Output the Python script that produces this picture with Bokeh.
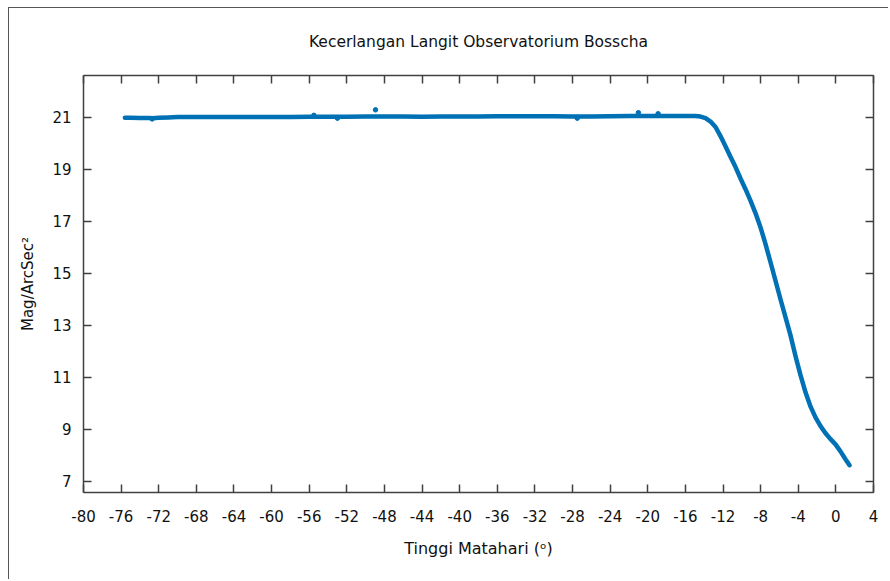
from bokeh.plotting import figure
from bokeh.models import LinearAxis, FixedTicker, Range1d
from bokeh.embed import file_html
from bokeh.resources import INLINE

# Sun altitude (degrees) and sky brightness (mag/arcsec^2)
altitude = [-75.6, -75, -74, -73, -72.7, -72, -71, -70, -68, -66, -64, -62, -60, -58,
            -56, -54, -52, -50, -48, -46, -44, -42, -40, -38, -36, -34, -32, -30,
            -28, -26, -24, -22, -20, -18, -16, -14.93, -14.4, -13.86, -13.33, -12.8,
            -12.27, -11.74, -11.21, -10.67, -10.15, -9.61, -9.08, -8.55, -8.02, -7.48,
            -6.95, -6.42, -5.89, -5.36, -4.83, -4.29, -3.76, -3.23, -2.7, -2.17,
            -1.63, -1.1, -0.57, -0.04, 0.49, 1.02, 1.45]
magnitude = [20.98, 20.98, 20.97, 20.97, 20.96, 20.98, 20.99, 21.0, 21.0, 21.0, 21.0, 21.0, 21.0, 21.0,
             21.01, 21.01, 21.01, 21.02, 21.02, 21.02, 21.01, 21.02, 21.02, 21.02, 21.03, 21.03, 21.03, 21.03,
             21.02, 21.02, 21.03, 21.04, 21.04, 21.04, 21.04, 21.04, 21.02, 20.96, 20.83, 20.62,
             20.27, 19.88, 19.48, 19.08, 18.65, 18.23, 17.79, 17.31, 16.77, 16.12,
             15.42, 14.71, 14.0, 13.31, 12.62, 11.81, 11.08, 10.42, 9.88, 9.46,
             9.12, 8.85, 8.62, 8.42, 8.15, 7.85, 7.62]

# isolated readings off the main band
outlier_alt = [-48.95, -21.0, -18.9, -55.5, -72.7, -53.0, -27.5]
outlier_mag = [21.28, 21.17, 21.13, 21.07, 20.93, 20.96, 20.96]

x_ticks = [-80, -76, -72, -68, -64, -60, -56, -52, -48, -44, -40, -36, -32, -28,
           -24, -20, -16, -12, -8, -4, 0, 4]
x_tick_labels = ["-80", "-76", "-72", "-68", "-64", "-60", "-56", "-52", "-48", "-44", "-40",
                 "-36", "-32", "-28", "-24", "-20", "-16", "-12", "-8", "-4", "0", "4"]
y_ticks = [7, 9, 11, 13, 15, 17, 19, 21]
y_tick_labels = ["7", "9", "11", "13", "15", "17", "19", "21"]

title_text = "Kecerlangan Langit Observatorium Bosscha"
x_label = "Tinggi Matahari (ᵒ)"
y_label = "Mag/ArcSec²"

FONT = "DejaVu Sans"
AXIS_COLOR = "#404040"
LINE_COLOR = "#0071b5"
TEXT_COLOR = "#111111"

p = figure(width=888, height=579,
           x_range=Range1d(-80, 4), y_range=Range1d(6.57, 22.6),
           output_backend="svg", toolbar_location=None,
           min_border_left=83, min_border_right=15,
           min_border_top=75, min_border_bottom=87,
           x_axis_label=x_label, y_axis_label=y_label)

# outer frame line of the picture (left and top edges), drawn behind a transparent border
p.border_fill_color = None
p.background_fill_color = "white"
p.styles = {
    "background": "linear-gradient(#555555, #555555) 8px 7px / 2000px 1px no-repeat, "
                  "linear-gradient(#555555, #555555) 8px 7px / 1px 2000px no-repeat, white"
}

p.title.text = ""
p.xgrid.visible = False
p.ygrid.visible = False
p.outline_line_color = AXIS_COLOR

p.line(altitude, magnitude, line_width=4.5, color=LINE_COLOR, line_join="round", line_cap="round")
p.scatter(outlier_alt, outlier_mag, size=4.5, color=LINE_COLOR)

bottom_axis = p.below[0]
left_axis = p.left[0]

bottom_axis.ticker = FixedTicker(ticks=x_ticks)
bottom_axis.major_label_overrides = dict(zip(x_ticks, x_tick_labels))
bottom_axis.major_label_standoff = 17
bottom_axis.axis_label_standoff = 14

left_axis.ticker = FixedTicker(ticks=y_ticks)
left_axis.major_label_overrides = dict(zip(y_ticks, y_tick_labels))
left_axis.major_label_standoff = 12
left_axis.axis_label_standoff = 12

top_axis = LinearAxis(ticker=FixedTicker(ticks=x_ticks), axis_label=title_text)
right_axis = LinearAxis(ticker=FixedTicker(ticks=y_ticks))
p.add_layout(top_axis, "above")
p.add_layout(right_axis, "right")

for ax in (bottom_axis, left_axis, top_axis, right_axis):
    ax.axis_line_color = AXIS_COLOR
    ax.axis_line_width = 1.5
    ax.major_tick_line_color = AXIS_COLOR
    ax.major_tick_line_width = 1.5
    ax.major_tick_in = 8
    ax.major_tick_out = 0
    ax.minor_tick_line_color = None
    ax.major_label_text_font = FONT
    ax.major_label_text_font_size = "15px"
    ax.major_label_text_color = TEXT_COLOR
    ax.axis_label_text_font = FONT
    ax.axis_label_text_font_size = "15px"
    ax.axis_label_text_font_style = "normal"
    ax.axis_label_text_color = TEXT_COLOR

bottom_axis.axis_label_text_font_size = "16px"

# mirrored axes: ticks only, no labels
for ax in (top_axis, right_axis):
    ax.major_label_text_font_size = "1px"
    ax.major_label_text_color = None
    ax.major_label_standoff = 0
top_axis.axis_label_text_font_size = "15.5px"
top_axis.axis_label_standoff = 25

open("out.html", "w").write(file_html(p, INLINE))
